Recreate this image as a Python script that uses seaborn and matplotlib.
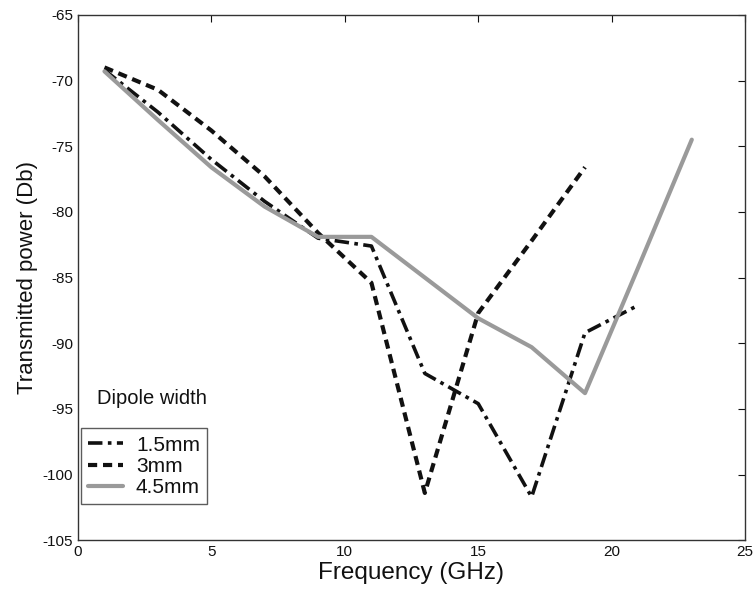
import matplotlib
matplotlib.use("Agg")
import matplotlib.pyplot as plt
import seaborn as sns
import pandas as pd

# Frequency samples (GHz) and transmitted power (dB) for each dipole width
freq = [1, 3, 5, 7, 9, 11, 13, 15, 17, 19, 21, 23]
p_15mm = [-69.2, -72.4, -76.0, -79.2, -82.0, -82.6, -92.3, -94.6, -101.7, -89.2, -87.1]
p_3mm = [-69.0, -70.7, -73.8, -77.3, -81.6, -85.4, -101.4, -87.7, -82.2, -76.6]
p_45mm = [-69.3, -73.0, -76.6, -79.6, -81.9, -81.9, -85.0, -88.1, -90.3, -93.8, -84.2, -74.5]

labels = ["1.5mm", "3mm", "4.5mm"]
xticks = [0, 5, 10, 15, 20, 25]
yticks = [-105, -100, -95, -90, -85, -80, -75, -70, -65]

frames = []
for lab, vals in zip(labels, [p_15mm, p_3mm, p_45mm]):
    frames.append(pd.DataFrame({"freq": freq[:len(vals)], "power": vals, "width": lab}))
df = pd.concat(frames, ignore_index=True)

sns.set_theme(style="white")
plt.rcParams["font.family"] = ["Liberation Sans", "DejaVu Sans"]
plt.rcParams["axes.unicode_minus"] = False
plt.rcParams["text.color"] = "#111111"
plt.rcParams["axes.labelcolor"] = "#111111"

fig = plt.figure(figsize=(7.55, 5.95), dpi=100)
ax = fig.add_axes([0.103, 0.092, 0.884, 0.883])

styles = {
    "1.5mm": dict(color="#111111", linestyle=(0, (4, 1.5, 1, 1.5)), linewidth=2.6),
    "3mm": dict(color="#111111", linestyle=(0, (2.2, 1.4)), linewidth=3.0),
    "4.5mm": dict(color="#9a9a9a", linestyle="-", linewidth=3.0),
}
for lab in labels:
    sub = df[df["width"] == lab]
    sns.lineplot(data=sub, x="freq", y="power", ax=ax, label=lab,
                 estimator=None, sort=False, **styles[lab])

ax.set_xlim(0, 25)
ax.set_ylim(-105, -65)
ax.set_xticks(xticks)
ax.set_yticks(yticks)
ax.tick_params(direction="in", length=5, width=0.8, labelsize=11,
               top=True, right=True, colors="#111111")
for s in ax.spines.values():
    s.set_color("#333333")
    s.set_linewidth(1.0)

ax.set_xlabel("Frequency (GHz)", fontsize=17.5, labelpad=2)
ax.set_ylabel("Transmitted power (Db)", fontsize=16, labelpad=3)

leg = ax.legend(loc="lower left", bbox_to_anchor=(0.0045, 0.0686),
                borderaxespad=0, fontsize=15, frameon=True, fancybox=False,
                handlelength=1.7, borderpad=0.35, labelspacing=0.1,
                handletextpad=0.6)
for t in leg.get_texts():
    t.set_color("#111111")
leg.get_frame().set_edgecolor("#333333")
leg.get_frame().set_linewidth(1.0)
ax.text(0.0285, 0.2705, "Dipole width", transform=ax.transAxes,
        fontsize=14.5, ha="left", va="center")

fig.savefig("out.png", dpi=100)
